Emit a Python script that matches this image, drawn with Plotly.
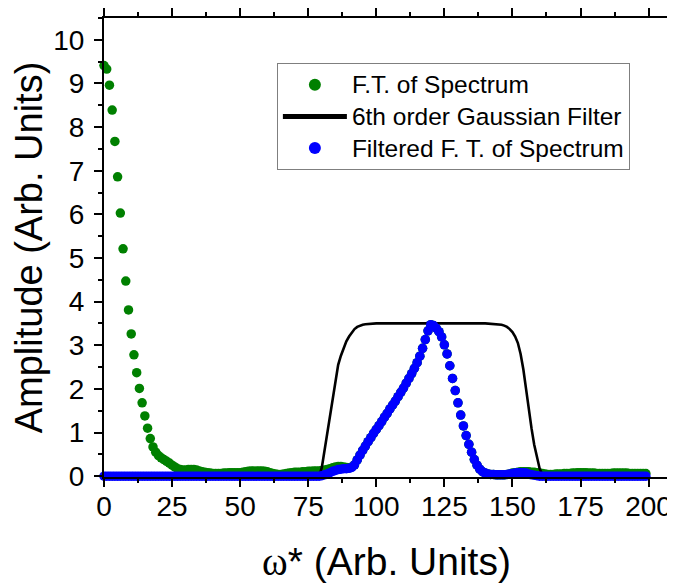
import plotly.graph_objects as go

# sample positions (omega*, arb. units)
omega = list(range(200))

# F.T. of spectrum (green)
ft_spectrum = [
    9.41, 9.33, 8.96, 8.39, 7.67, 6.86, 6.03, 5.21, 4.47, 3.81,
    3.26, 2.78, 2.37, 2.01, 1.68, 1.38, 1.10, 0.86, 0.67, 0.55,
    0.47, 0.42, 0.38, 0.34, 0.30, 0.25, 0.21, 0.17, 0.15, 0.14,
    0.14, 0.15, 0.15, 0.15, 0.14, 0.12, 0.10, 0.09, 0.08, 0.07,
    0.06, 0.06, 0.06, 0.06, 0.07, 0.07, 0.08, 0.08, 0.08, 0.08,
    0.08, 0.09, 0.10, 0.11, 0.12, 0.12, 0.12, 0.12, 0.12, 0.11,
    0.10, 0.08, 0.06, 0.05, 0.04, 0.04, 0.05, 0.06, 0.07, 0.08,
    0.09, 0.09, 0.09, 0.10, 0.10, 0.11, 0.11, 0.12, 0.12, 0.12,
    0.13, 0.14, 0.15, 0.17, 0.19, 0.21, 0.22, 0.22, 0.21, 0.20,
    0.19, 0.21, 0.26, 0.37, 0.48, 0.59, 0.69, 0.79, 0.88, 0.98,
    1.07, 1.16, 1.25, 1.35, 1.44, 1.54, 1.63, 1.72, 1.82, 1.92,
    2.02, 2.13, 2.24, 2.35, 2.47, 2.60, 2.75, 2.93, 3.13, 3.33,
    3.47, 3.45, 3.39, 3.31, 3.19, 3.01, 2.80, 2.53, 2.24, 1.96,
    1.68, 1.40, 1.15, 0.93, 0.73, 0.55, 0.38, 0.25, 0.16, 0.10,
    0.07, 0.05, 0.04, 0.04, 0.03, 0.03, 0.03, 0.03, 0.04, 0.05,
    0.07, 0.08, 0.09, 0.10, 0.10, 0.10, 0.10, 0.09, 0.09, 0.08,
    0.07, 0.06, 0.05, 0.04, 0.04, 0.04, 0.05, 0.05, 0.05, 0.06,
    0.06, 0.06, 0.07, 0.07, 0.08, 0.08, 0.08, 0.08, 0.07, 0.07,
    0.07, 0.06, 0.06, 0.06, 0.06, 0.06, 0.06, 0.07, 0.07, 0.07,
    0.07, 0.07, 0.07, 0.06, 0.06, 0.06, 0.06, 0.06, 0.06, 0.06,
]

# Filtered F.T. of spectrum (blue)
filtered_ft = [
    0.00, 0.00, 0.00, 0.00, 0.00, 0.00, 0.00, 0.00, 0.00, 0.00,
    0.00, 0.00, 0.00, 0.00, 0.00, 0.00, 0.00, 0.00, 0.00, 0.00,
    0.00, 0.00, 0.00, 0.00, 0.00, 0.00, 0.00, 0.00, 0.00, 0.00,
    0.00, 0.00, 0.00, 0.00, 0.00, 0.00, 0.00, 0.00, 0.00, 0.00,
    0.00, 0.00, 0.00, 0.00, 0.00, 0.00, 0.00, 0.00, 0.00, 0.00,
    0.00, 0.00, 0.00, 0.00, 0.00, 0.00, 0.00, 0.00, 0.00, 0.00,
    0.00, 0.00, 0.00, 0.00, 0.00, 0.00, 0.00, 0.00, 0.00, 0.00,
    0.00, 0.00, 0.00, 0.00, 0.00, 0.00, 0.00, 0.00, 0.00, 0.00,
    0.01, 0.03, 0.05, 0.08, 0.11, 0.13, 0.15, 0.16, 0.17, 0.17,
    0.18, 0.20, 0.26, 0.37, 0.48, 0.59, 0.69, 0.79, 0.88, 0.98,
    1.07, 1.16, 1.25, 1.35, 1.44, 1.54, 1.63, 1.72, 1.82, 1.92,
    2.02, 2.13, 2.24, 2.35, 2.47, 2.60, 2.75, 2.93, 3.13, 3.33,
    3.47, 3.45, 3.39, 3.31, 3.19, 3.01, 2.80, 2.53, 2.24, 1.96,
    1.68, 1.40, 1.15, 0.93, 0.73, 0.55, 0.38, 0.25, 0.16, 0.10,
    0.07, 0.05, 0.04, 0.04, 0.03, 0.03, 0.03, 0.03, 0.04, 0.05,
    0.06, 0.07, 0.08, 0.08, 0.08, 0.07, 0.05, 0.03, 0.02, 0.01,
    0.00, 0.00, 0.00, 0.00, 0.00, 0.00, 0.00, 0.00, 0.00, 0.00,
    0.00, 0.00, 0.00, 0.00, 0.00, 0.00, 0.00, 0.00, 0.00, 0.00,
    0.00, 0.00, 0.00, 0.00, 0.00, 0.00, 0.00, 0.00, 0.00, 0.00,
    0.00, 0.00, 0.00, 0.00, 0.00, 0.00, 0.00, 0.00, 0.00, 0.00,
]

# 6th order Gaussian filter (black line)
filter_x = [0, 79, 80, 81, 82, 83, 84, 85, 86, 87, 88, 89, 90, 91, 92, 93, 94, 95, 96, 98, 100,
            140, 142, 144, 145, 146, 147, 148, 149, 150, 151, 152, 153, 154, 155, 156, 157, 158,
            159, 160, 161, 162, 199]
filter_y = [0.0, 0.0, 0.2, 0.6, 1.02, 1.44, 1.86, 2.25, 2.55, 2.76, 2.93, 3.09, 3.2, 3.3, 3.37,
            3.42, 3.45, 3.47, 3.48, 3.49, 3.5,
            3.5, 3.49, 3.49, 3.48, 3.47, 3.45, 3.42, 3.37, 3.3, 3.2, 3.05, 2.8, 2.45, 2.0, 1.5,
            1.1, 0.72, 0.42, 0.17, 0.03, 0.0, 0.0]

legend_names = ["F.T. of Spectrum", "6th order Gaussian Filter", "Filtered F. T. of Spectrum"]

FONT = "Liberation Sans, Arial, sans-serif"


def legend_label(name):
    # text drawn a little larger than the legend row pitch
    return '<span style="font-size:24.5px">' + name + "</span>"


fig = go.Figure()
fig.add_trace(go.Scatter(x=omega, y=ft_spectrum, mode="markers", name=legend_label(legend_names[0]),
                         marker=dict(color="#008000", size=9.5), cliponaxis=False))
fig.add_trace(go.Scatter(x=filter_x, y=filter_y, mode="lines", name=legend_label(legend_names[1]),
                         line=dict(color="black", width=2.6)))
fig.add_trace(go.Scatter(x=omega, y=filtered_ft, mode="markers", name=legend_label(legend_names[2]),
                         marker=dict(color="#0000FF", size=9.5), cliponaxis=False))

axis_common = dict(
    showgrid=False, zeroline=False, showline=True, linecolor="black", linewidth=2,
    ticks="outside", ticklen=8, tickwidth=2, tickcolor="black",
    tickfont=dict(family=FONT, size=28, color="black"),
)

# the page body adds an 8 px offset, so the figure is 8 px smaller than the window
fig.update_layout(
    width=667, height=575,
    margin=dict(l=96, r=6, t=10, b=106),
    paper_bgcolor="white", plot_bgcolor="white",
    font=dict(family=FONT, color="black"),
    showlegend=True,
    legend=dict(
        x=0.306, y=0.902, xanchor="left", yanchor="top",
        bgcolor="white", bordercolor="#7f7f7f", borderwidth=1,
        font=dict(family=FONT, size=22, color="black"),
        itemwidth=64, tracegroupgap=0, itemsizing="constant",
    ),
    xaxis=dict(
        **axis_common,
        range=[0, 207.5], tickmode="linear", tick0=0, dtick=25,
        mirror="ticks",
        minor=dict(ticks="outside", dtick=12.5, tick0=0, ticklen=4, tickwidth=2, tickcolor="black"),
        title=dict(text='<span style="font-family:Liberation Serif, Times New Roman, serif">ω</span>* (Arb. Units)',
                   font=dict(family=FONT, size=39, color="black"), standoff=28),
        ticklabelstandoff=-5,
        automargin=False,
    ),
    yaxis=dict(
        **axis_common,
        range=[-0.02, 10.5], tickmode="linear", tick0=0, dtick=1,
        mirror=True,
        minor=dict(ticks="outside", dtick=0.5, tick0=0, ticklen=4, tickwidth=2, tickcolor="black"),
        title=dict(text="Amplitude (Arb. Units)", font=dict(family=FONT, size=38, color="black"), standoff=0),
        ticklabelstandoff=4,
        automargin=False,
    ),
)

fig.write_html("out.html")
